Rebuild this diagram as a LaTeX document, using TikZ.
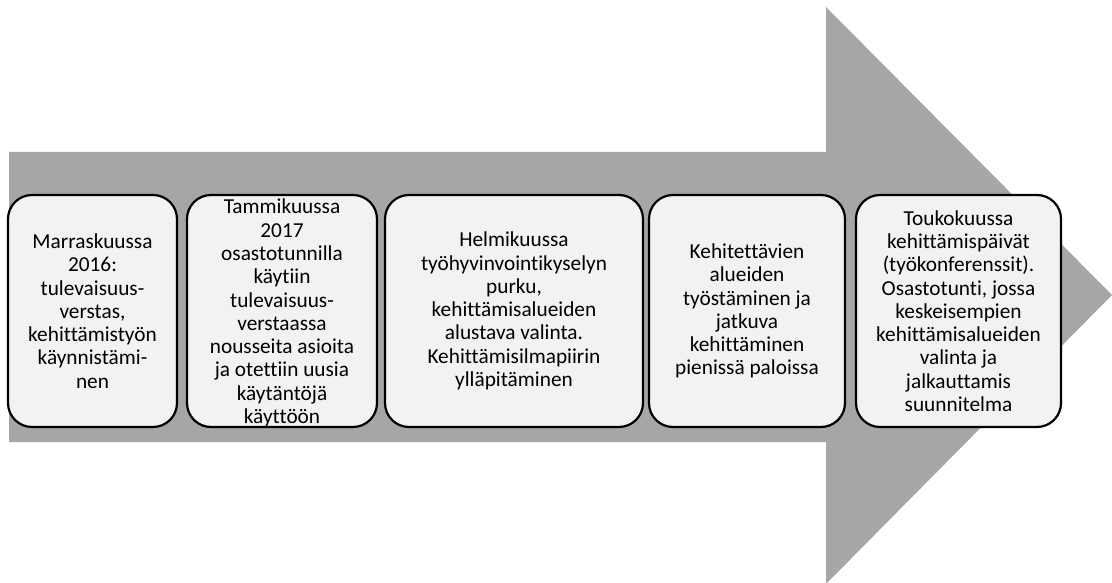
\documentclass[tikz,border=0pt]{standalone}
\usepackage{fontspec}
\setmainfont[Ligatures={NoCommon}]{Carlito}
\definecolor{arrowgrey}{HTML}{A6A6A6}
\definecolor{boxfill}{HTML}{F2F2F2}
\begin{document}
\begin{tikzpicture}[x=1pt,y=-1pt,
  stage/.style={draw=black, line width=2.2pt, fill=boxfill, rounded corners=24pt,
    minimum height=232pt, inner sep=0pt},
  stagetext/.style={inner sep=0pt, align=center, text=black,
    font=\fontsize{21.3}{23.3}\selectfont}]
\useasboundingbox (0,0) rectangle (1112,583);
% broad block arrow behind the stages
\fill[arrowgrey] (9,152) -- (826,152) -- (826,7) -- (1112,295) -- (826,584) -- (826,442) -- (9,442) -- cycle;
% stage boxes
\node[stage, minimum width=169pt] (s1) at (92.5,311) {};
\node[stage, minimum width=190pt] (s2) at (282,311) {};
\node[stage, minimum width=258pt] (s3) at (514,311) {};
\node[stage, minimum width=196pt] (s4) at (747,311) {};
\node[stage, minimum width=205pt] (s5) at (958.5,311) {};
% stage texts
\node[stagetext] (t1) at (s1.center)
  {Marraskuussa\\2016:\\tulevaisuus-\\verstas,\\kehittämistyön\\käynnistämi-\\nen};
\node[stagetext] (t2) at ([yshift=-2pt]s2.center)
  {Tammikuussa\\2017\\osastotunnilla\\käytiin\\tulevaisuus-\\verstaassa\\nousseita asioita\\ja otettiin uusia\\käytäntöjä\\käyttöön};
\node[stagetext] (t3) at (s3.center)
  {Helmikuussa\\työhyvinvointikyselyn\\purku,\\kehittämisalueiden\\alustava valinta.\\Kehittämisilmapiirin\\ylläpitäminen};
\node[stagetext] (t4) at (s4.center)
  {Kehitettävien\\alueiden\\työstäminen ja\\jatkuva\\kehittäminen\\pienissä paloissa};
\node[stagetext] (t5) at (s5.center)
  {Toukokuussa\\kehittämispäivät\\(työkonferenssit).\\Osastotunti, jossa\\keskeisempien\\kehittämisalueiden\\valinta ja\\jalkauttamis\\suunnitelma};
\end{tikzpicture}
\end{document}
